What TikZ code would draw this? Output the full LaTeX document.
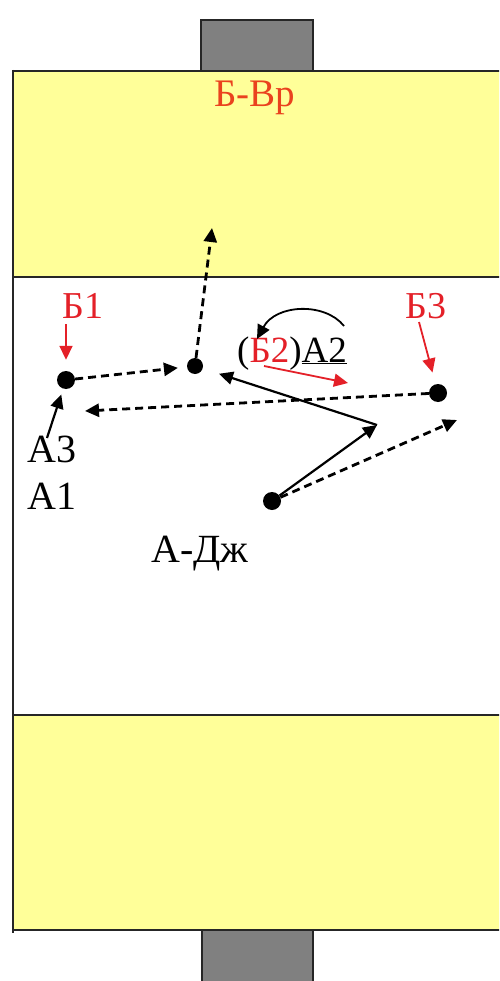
\documentclass[tikz,border=0pt]{standalone}
\usepackage{fontspec}
\setmainfont{Liberation Serif}
\usetikzlibrary{arrows.meta}
\definecolor{fieldyellow}{RGB}{255,255,153}
\definecolor{goalgray}{RGB}{128,128,128}
\definecolor{labred}{RGB}{228,32,40}
\definecolor{titred}{RGB}{234,66,30}
\tikzset{
  border/.style={line width=2.8pt, draw=black!85},
  dot/.style={circle, fill=black, inner sep=0pt, minimum size=#1},
  dot/.default=18pt,
  lab/.style={inner sep=0pt, anchor=base west, font=\fontsize{40}{40}\selectfont},
  redlab/.style={lab, text=labred, font=\fontsize{38}{38}\selectfont},
  tip/.style={-{Triangle[length=14pt,width=13pt]}},
  dasharrow/.style={tip, line width=2.8pt, dash pattern=on 8pt off 5pt},
  solidarrow/.style={tip, line width=2.2pt},
  redarrow/.style={line width=1.8pt, draw=labred, -{Triangle[length=14pt,width=13pt,fill=labred]}}
}
\begin{document}
\begin{tikzpicture}[x=1pt,y=-1pt]
\useasboundingbox (0,0) rectangle (499,981);
\clip (0,0) rectangle (499,981);
\fill[white] (0,0) rectangle (499,981);
% goals
\draw[border, fill=goalgray] (201,72) -- (201,20) -- (313,20) -- (313,72);
\draw[border, fill=goalgray] (202,929) -- (202,990) -- (313,990) -- (313,929) -- cycle;
% field bands
\fill[fieldyellow] (13,71) rectangle (510,277);
\fill[fieldyellow] (13,715) rectangle (510,930);
\draw[border] (13,71) -- (510,71);
\draw[border] (13,277) -- (510,277);
\draw[border] (13,715) -- (510,715);
\draw[border] (13,930) -- (510,930);
\draw[border] (13,70) -- (13,933);
% labels
\node[lab, text=titred, font=\fontsize{39}{39}\selectfont] (bvr) at (214,107) {Б-Вр};
\node[redlab] (b1lab) at (62,318) {Б1};
\node[redlab] (b3lab) at (405,318) {Б3};
\node[lab, font=\fontsize{37}{37}\selectfont] (b2lab) at (237,362) {(\textcolor{labred}{Б2})\underline{А2}};
\node[lab] (a3lab) at (27,462) {А3};
\node[lab] (a1lab) at (27,509) {А1};
\node[lab] (ajlab) at (151,562) {А-Дж};
% players
\node[dot] (b1) at (66,380) {};
\node[dot=16pt] (mid) at (195,366) {};
\node[dot] (b3) at (438,393) {};
\node[dot] (aj) at (272,501) {};
% free ends
\coordinate (b1s) at (66,324);
\coordinate (up) at (212,228);
\coordinate (p) at (377,425);
\coordinate (q) at (457,420);
\coordinate (r) at (85,411);
\coordinate (a3s) at (47,438);
\coordinate (b3s) at (419,322);
\coordinate (b2s) at (264,366);
\coordinate (b2e) at (348,383);
\coordinate (cs) at (344,326);
\coordinate (ce) at (257,339);
% connectors
\draw[redarrow, shorten >=11pt] (b1s) -- (b1);
\draw[redarrow, shorten >=12pt] (b3s) -- (b3);
\draw[redarrow] (b2s) -- (b2e);
\draw[dasharrow, shorten >=9pt] (b1) -- (mid);
\draw[dasharrow] (mid) -- (up);
\draw[dasharrow] (b3) -- (r);
\draw[dasharrow] (aj) -- (q);
\draw[solidarrow] (aj) -- (p);
\draw[solidarrow, shorten >=17pt] (p) -- (mid);
\draw[solidarrow, shorten >=6pt] (a3s) -- (b1);
\draw[solidarrow, line width=1.8pt] (cs) .. controls (325,302) and (276,304) .. (ce);
\end{tikzpicture}
\end{document}
